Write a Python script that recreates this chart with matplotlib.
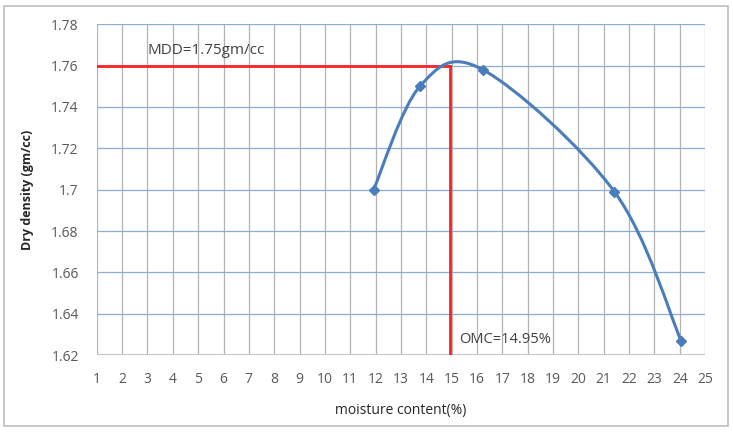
import numpy as np
import matplotlib
matplotlib.use("Agg")
import matplotlib.pyplot as plt
from matplotlib.path import Path
from matplotlib.patches import PathPatch, Rectangle
from matplotlib.ticker import FuncFormatter

# compaction test readings
moisture = [11.92, 13.75, 16.23, 21.42, 24.05]
dry_density = [1.700, 1.750, 1.758, 1.699, 1.627]
omc = 14.95
mdd_line = 1.76
mdd_label = "MDD=1.75gm/cc"
omc_label = "OMC=14.95%"
x_ticks = list(range(1, 26))
y_ticks = [1.62, 1.64, 1.66, 1.68, 1.7, 1.72, 1.74, 1.76, 1.78]

plt.rcParams['font.family'] = ['Open Sans', 'DejaVu Sans']

fig = plt.figure(figsize=(7.33, 4.32), dpi=100)
ax = fig.add_axes([0.132, 0.178, 0.830, 0.766])

# light frame around the whole chart, like the excel chart area
fig.patches.append(Rectangle((0.005, 0.015), 0.988, 0.972, transform=fig.transFigure,
                             fill=False, edgecolor='#bfbfbf', linewidth=1.2))

# grid
for xv in x_ticks:
    ax.axvline(xv, color='#b3b3b3', linewidth=0.9, zorder=0)
for yv in y_ticks[1:]:
    ax.axhline(yv, color='#8eaad6', linewidth=0.9, zorder=0)
ax.axhline(y_ticks[0], color='#bcbcbc', linewidth=2.0, zorder=1)

# smoothed curve (excel style bezier through the points)
pts = np.column_stack([moisture, dry_density])
verts = [tuple(pts[0])]
codes = [Path.MOVETO]
n = len(pts)
for i in range(n - 1):
    p0 = pts[max(i - 1, 0)]
    p1 = pts[i]
    p2 = pts[i + 1]
    p3 = pts[min(i + 2, n - 1)]
    c1 = p1 + (p2 - p0) / 6.0
    c2 = p2 - (p3 - p1) / 6.0
    verts += [tuple(c1), tuple(c2), tuple(p2)]
    codes += [Path.CURVE4] * 3
ax.add_patch(PathPatch(Path(verts, codes), facecolor='none', edgecolor='#4a7ebb',
                       linewidth=2.2, zorder=3))
ax.plot(moisture, dry_density, linestyle='none', marker='D', markersize=5,
        color='#4a7ebb', zorder=4)

# MDD / OMC lines
ax.plot([1, omc], [mdd_line, mdd_line], color='#ff2020', linewidth=2, zorder=2)
ax.plot([omc, omc], [y_ticks[0], mdd_line], color='#ff2020', linewidth=2, zorder=2)
ax.text(3.0, 1.7635, mdd_label, fontsize=11, color='#404040', va='bottom')
ax.text(15.3, 1.6275, omc_label, fontsize=10.5, color='#404040', va='center')

ax.set_xlim(1, 25)
ax.set_ylim(1.62, 1.78)
ax.set_xticks(x_ticks)
ax.set_yticks(y_ticks)
ax.yaxis.set_major_formatter(FuncFormatter(lambda v, p: '{:g}'.format(round(v, 2))))
ax.tick_params(length=0, labelsize=10, labelcolor='#595959', pad=12)
ax.tick_params(axis='y', pad=13)
for s in ax.spines.values():
    s.set_visible(False)

ax.set_xlabel('moisture content(%)', fontsize=10, color='#262626', labelpad=12)
ax.set_ylabel('Dry density (gm/cc)', fontsize=9, color='#262626', fontweight='bold',
              labelpad=12)

fig.savefig('out.png', dpi=100)
